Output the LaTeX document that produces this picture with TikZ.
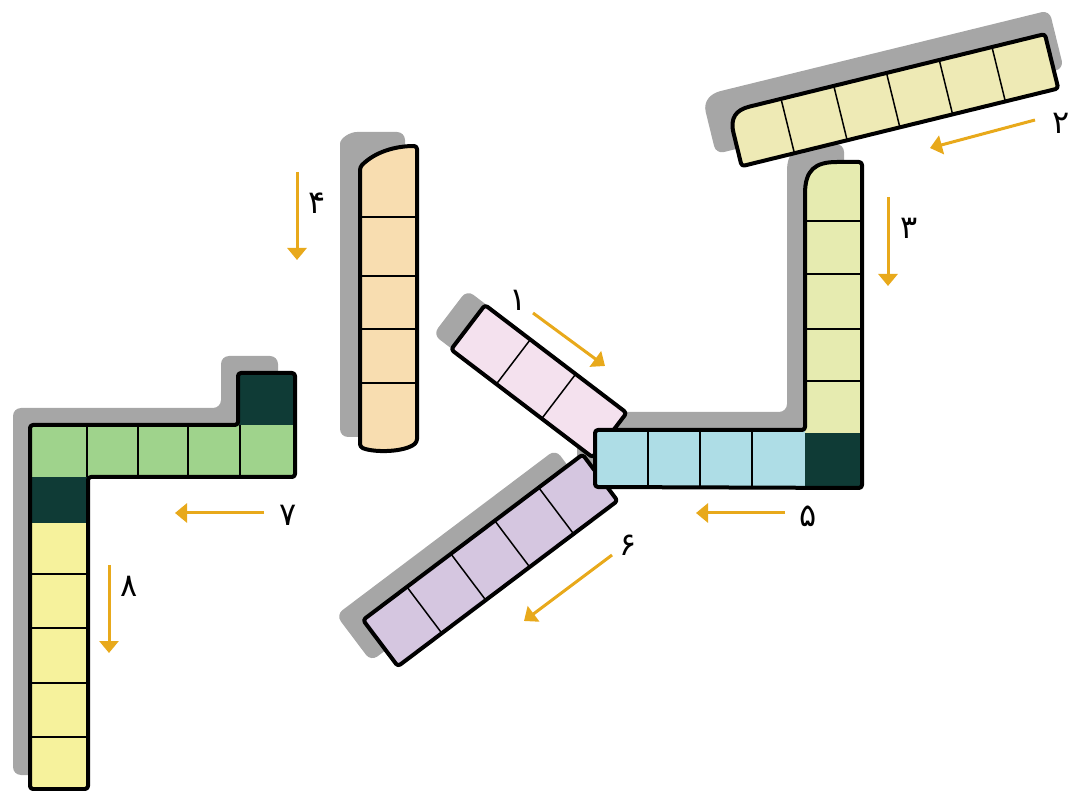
\documentclass[tikz,border=0pt]{standalone}
\usepackage{fontspec}
\newfontfamily\arabicfont[Script=Arabic]{DejaVu Sans}
\usetikzlibrary{arrows.meta}
\definecolor{shadowgray}{HTML}{A6A6A6}
\definecolor{arrowgold}{HTML}{E8A91B}
\definecolor{cellpink}{HTML}{F4E1EE}
\definecolor{cellblue}{HTML}{AEDDE6}
\definecolor{cellpurple}{HTML}{D5C6E0}
\definecolor{cellgreen}{HTML}{9FD38C}
\definecolor{celldark}{HTML}{0F3B36}
\definecolor{cellyellow}{HTML}{F6F29C}
\definecolor{celllime}{HTML}{E6EBB0}
\definecolor{cellbeige}{HTML}{EEEAB5}
\definecolor{cellorange}{HTML}{F8DDB0}
\tikzset{
    shadowbox/.style={fill=shadowgray,rounded corners=8},
    cellline/.style={draw=black,line width=1.5},
    pieceline/.style={draw=black,line width=4,rounded corners=3,line join=round},
    dirarrow/.style={-{Triangle[length=12pt,width=19pt]},line width=3,draw=arrowgold},
    numlabel/.style={font=\arabicfont\fontsize{32}{32}\selectfont,inner sep=0pt}
}
\begin{document}
\begin{tikzpicture}[x=1pt,y=-1pt]
            \useasboundingbox (0,0) rectangle (1072,791);
            \fill[shadowbox] (13,775) -- (13,408) -- (221,408) -- (221,356) -- (278,356) -- (278,460) -- (71,460) -- (71,775) -- cycle;
            \fill[shadowbox] (340,437) -- (340,152) .. controls (340,138) and (350,132) .. (365,132) -- (405,132) -- (405,437) -- cycle;
            \fill[shadowbox] (577,412) -- (787,412) -- (787,179) .. controls (787,152) and (797,144) .. (822,144) -- (844,144) -- (844,470) -- (577,469) -- cycle;
            \begin{scope}[shift={(336,615)},rotate=37]
                \fill[shadowbox] (0,0) rectangle (275,58);
            \end{scope}
            \begin{scope}[shift={(467,290)},rotate=-37.3]
                \fill[shadowbox] (0,0) rectangle (178,56);
            \end{scope}
            \begin{scope}[shift={(735,139)},rotate=13.8]
                \fill[shadowbox] (-22,10) -- (-22,-25) .. controls (-22,-45) and (-12,-50) .. (5,-50) -- (336,-50) -- (336,10) -- cycle;
            \end{scope}
            % piece 7 and 8
            \fill[cellgreen] (32,425) rectangle (295,477);
            \fill[celldark] (238,373) rectangle (295,425);
            \fill[celldark] (30,477) rectangle (88,523);
            \fill[cellyellow] (30,523) rectangle (88,789);
            \foreach \x in {87,138,188,240}
                \draw[cellline] (\x,425) -- (\x,477);
            \foreach \y in {574,628,683,737}
                \draw[cellline] (30,\y) -- (88,\y);
            \draw[pieceline] (30,789) -- (30,425) -- (238,425) -- (238,373) -- (295,373) -- (295,477) -- (88,477) -- (88,789) -- cycle;
            % piece 4
            \fill[cellorange] (360,167) .. controls (375,152) and (395,146) .. (417,146) -- (417,442) .. controls (405,452) and (375,453) .. (360,447) -- cycle;
            \foreach \y in {217,276,329,383}
                \draw[cellline] (360,\y) -- (417,\y);
            \draw[pieceline] (360,167) .. controls (375,152) and (395,146) .. (417,146) -- (417,442) .. controls (405,452) and (375,453) .. (360,447) -- cycle;
            % piece 6
            \begin{scope}[shift={(363,620)},rotate=37]
                \fill[cellpurple] (0,0) rectangle (275,58);
                \foreach \i in {1,...,4}
                    \draw[cellline] ({\i*55},0) -- ({\i*55},58);
                \draw[pieceline] (0,0) rectangle (275,58);
            \end{scope}
            % piece 1
            \begin{scope}[shift={(485,305)},rotate=-37.3]
                \fill[cellpink] (0,0) rectangle (178,56);
                \foreach \u in {57,114}
                    \draw[cellline] (\u,0) -- (\u,56);
                \draw[pieceline] (0,0) rectangle (178,56);
            \end{scope}
            % piece 3 and 5
            \fill[cellblue] (595,430) rectangle (805,487);
            \fill[celldark] (805,433) rectangle (862,488);
            \fill[celllime] (805,433) -- (805,197) .. controls (805,170) and (815,162) .. (840,162) -- (862,162) -- (862,433) -- cycle;
            \foreach \x in {648,700,752}
                \draw[cellline] (\x,430) -- (\x,487);
            \foreach \y in {221,274,329,381}
                \draw[cellline] (805,\y) -- (862,\y);
            \draw[pieceline] (595,430) -- (805,430) -- (805,197) .. controls (805,170) and (815,162) .. (840,162) -- (862,162) -- (862,488) -- (595,487) -- cycle;
            % piece 2
            \begin{scope}[shift={(735,139)},rotate=13.8]
                \fill[cellbeige] (0,28) -- (0,-3) .. controls (0,-22) and (8,-28) .. (25,-28) -- (326,-28) -- (326,28) -- cycle;
                \foreach \i in {1,...,5}
                    \draw[cellline] ({\i*54.3},-28) -- ({\i*54.3},28);
                \draw[pieceline] (0,28) -- (0,-3) .. controls (0,-22) and (8,-28) .. (25,-28) -- (326,-28) -- (326,28) -- cycle;
            \end{scope}
            % arrows
            \coordinate (a1s) at (533,313);
            \coordinate (a1e) at (605,366);
            \coordinate (a2s) at (1035,120);
            \coordinate (a2e) at (930,148);
            \coordinate (a3s) at (888,197);
            \coordinate (a3e) at (888,286);
            \coordinate (a4s) at (297,172);
            \coordinate (a4e) at (297,260);
            \coordinate (a5s) at (785,513);
            \coordinate (a5e) at (696,513);
            \coordinate (a6s) at (612,555);
            \coordinate (a6e) at (524,621);
            \coordinate (a7s) at (264,513);
            \coordinate (a7e) at (175,513);
            \coordinate (a8s) at (109,565);
            \coordinate (a8e) at (109,653);
            \draw[dirarrow] (a1s) -- (a1e);
            \draw[dirarrow] (a2s) -- (a2e);
            \draw[dirarrow] (a3s) -- (a3e);
            \draw[dirarrow] (a4s) -- (a4e);
            \draw[dirarrow] (a5s) -- (a5e);
            \draw[dirarrow] (a6s) -- (a6e);
            \draw[dirarrow] (a7s) -- (a7e);
            \draw[dirarrow] (a8s) -- (a8e);
            \node[numlabel] (n1) at (518,300) {۱};
            \node[numlabel] (n2) at (1061,123) {۲};
            \node[numlabel] (n3) at (909,228) {۳};
            \node[numlabel] (n4) at (317,203) {۴};
            \node[numlabel] (n5) at (808,516) {۵};
            \node[numlabel] (n6) at (628,545) {۶};
            \node[numlabel] (n7) at (288,515) {۷};
            \node[numlabel] (n8) at (129,586) {۸};
\end{tikzpicture}
\end{document}
